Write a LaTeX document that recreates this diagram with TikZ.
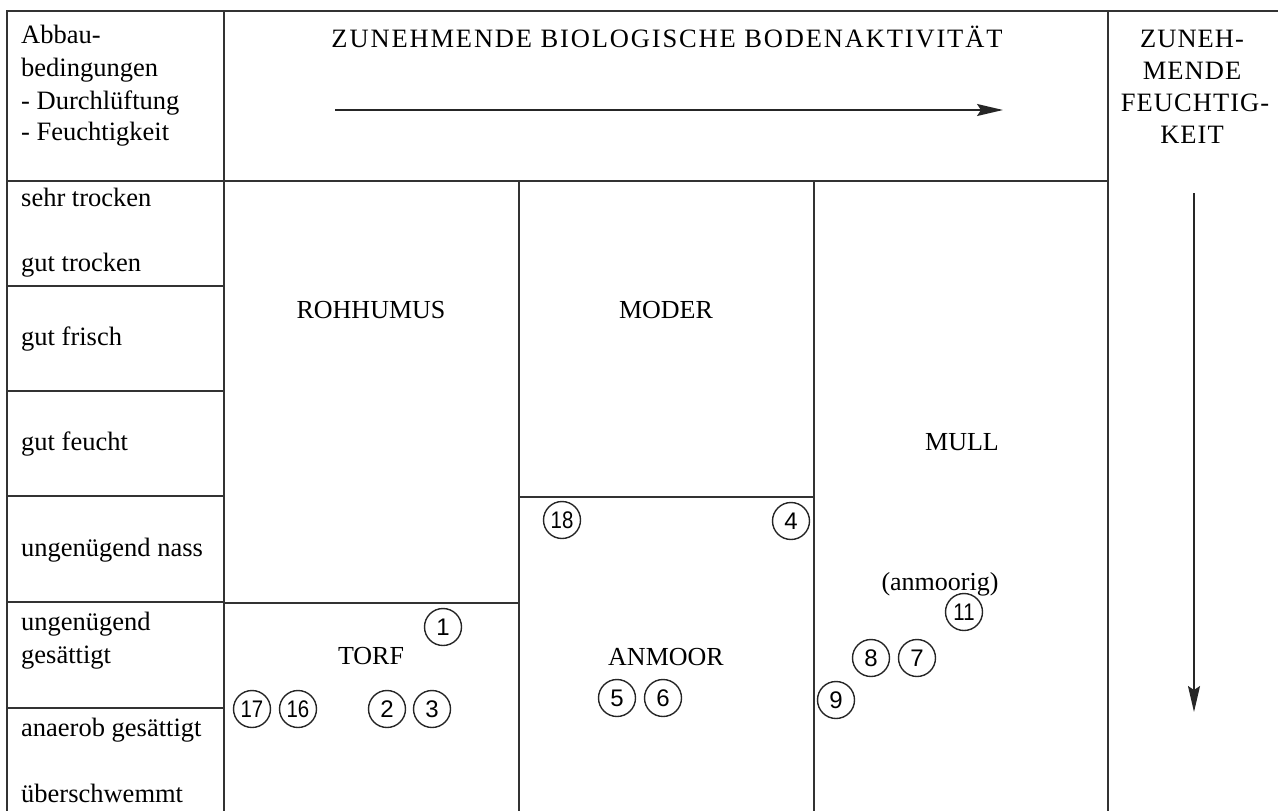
\documentclass[tikz,border=0pt]{standalone}
\usepackage{fontspec}
\setmainfont{Liberation Serif}
\newfontfamily\numfont{Liberation Sans}
\newfontfamily\wideserif[LetterSpace=7]{Liberation Serif}
\newfontfamily\midserif[LetterSpace=4]{Liberation Serif}
\usetikzlibrary{arrows.meta}
\begin{document}
\begin{tikzpicture}[x=1pt,y=-1pt,
  grid/.style={line width=1.7pt,draw=black!80},
  lbl/.style={anchor=base west,inner sep=0pt,font=\fontsize{26.5}{30}\selectfont},
  zone/.style={anchor=base,inner sep=0pt,font=\fontsize{26}{30}\selectfont},
  head/.style={anchor=base,inner sep=0pt,font=\wideserif\fontsize{26.5}{30}\selectfont},
  rhead/.style={anchor=base,inner sep=0pt,font=\midserif\fontsize{26.5}{30}\selectfont},
  num/.style={circle,draw=black!85,line width=1.4pt,minimum size=37pt,inner sep=0pt,font=\numfont\fontsize{24}{24}\selectfont},
  arr/.style={line width=1.7pt,draw=black!85,-{Stealth[length=26pt,width=12pt,inset=4pt]}}]
\useasboundingbox (0,0) rectangle (1280,811);
% frame and grid
\draw[grid] (7,811) -- (7,11) -- (1278,11);
\draw[grid] (224,11) -- (224,811);
\draw[grid] (1108,11) -- (1108,811);
\draw[grid] (7,181) -- (1108,181);
\draw[grid] (519,181) -- (519,811);
\draw[grid] (814,181) -- (814,811);
\foreach \yy in {286,391,496,602,708} \draw[grid] (7,\yy) -- (224,\yy);
\draw[grid] (224,603) -- (519,603);
\draw[grid] (519,497) -- (814,497);
% header left
\node[lbl] (h1) at (21,43) {Abbau-};
\node[lbl] (h2) at (21,76) {bedingungen};
\node[lbl] (h3) at (21,109) {- Durchlüftung};
\node[lbl] (h4) at (21,140) {- Feuchtigkeit};
% header middle
\node[head] (title) at (667,47) {ZUNEHMENDE BIOLOGISCHE BODENAKTIVITÄT};
\coordinate (hA) at (335,110);
\coordinate (hB) at (1003,110);
\draw[arr] (hA) -- (hB);
% header right
\node[rhead] (r1) at (1192,47) {ZUNEH-};
\node[rhead] (r2) at (1192,79) {MENDE};
\node[rhead] (r3) at (1195,111) {FEUCHTIG-};
\node[rhead] (r4) at (1192,143) {KEIT};
\coordinate (vA) at (1194,193);
\coordinate (vB) at (1194,712);
\draw[arr] (vA) -- (vB);
% left rows
\node[lbl] (a1) at (21,206) {sehr trocken};
\node[lbl] (a2) at (21,271) {gut trocken};
\node[lbl] (a3) at (21,345) {gut frisch};
\node[lbl] (a4) at (21,450) {gut feucht};
\node[lbl] (a5) at (21,556) {ungenügend nass};
\node[lbl] (a6) at (21,630) {ungenügend};
\node[lbl] (a7) at (21,663) {gesättigt};
\node[lbl] (a8) at (21,736) {anaerob gesättigt};
\node[lbl] (a9) at (21,802) {überschwemmt};
% zones
\node[zone] (rohhumus) at (371,318) {ROHHUMUS};
\node[zone] (moder) at (666,318) {MODER};
\node[zone] (mull) at (962,450) {MULL};
\node[zone] (torf) at (371,664) {TORF};
\node[zone] (anmoor) at (666,665) {ANMOOR};
\node[zone] (anmoorig) at (940,590) {(anmoorig)};
% numbers
\node[num] (n1) at (443,627) {1};
\node[num] (n17) at (252,709) {\scalebox{0.85}[1]{17}};
\node[num] (n16) at (298,709) {\scalebox{0.85}[1]{16}};
\node[num] (n2) at (387,709) {2};
\node[num] (n3) at (432,709) {3};
\node[num] (n18) at (562,520) {\scalebox{0.85}[1]{18}};
\node[num] (n4) at (791,521) {4};
\node[num] (n5) at (617,698) {5};
\node[num] (n6) at (663,698) {6};
\node[num] (n11) at (964,612) {\scalebox{0.85}[1]{11}};
\node[num] (n8) at (871,658) {8};
\node[num] (n7) at (917,658) {7};
\node[num] (n9) at (836,700) {9};
\end{tikzpicture}
\end{document}
